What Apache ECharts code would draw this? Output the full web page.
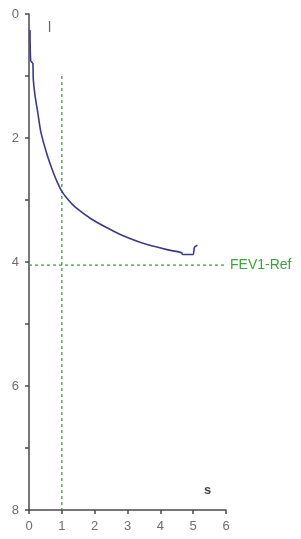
<!DOCTYPE html>
<html><head><meta charset="utf-8">
<script src="https://cdn.jsdelivr.net/npm/echarts@6/dist/echarts.min.js"></script>
<style>html,body{margin:0;padding:0;background:#fff}#c{width:301px;height:539px}</style>
</head><body><div id="c"></div>
<script>
// Volume-time curve (time in s, volume in l)
var curveTime   = [0.03, 0.05, 0.09, 0.12, 0.13, 0.18, 0.27, 0.36, 0.54, 0.70, 0.85, 1.00, 1.20, 1.40, 1.91, 2.42, 2.83, 3.38, 4.20, 4.65, 4.68, 4.99, 5.04, 5.13];
var curveVolume = [0.26, 0.75, 0.78, 0.80, 1.05, 1.30, 1.60, 1.90, 2.25, 2.50, 2.70, 2.86, 3.00, 3.11, 3.31, 3.46, 3.57, 3.68, 3.80, 3.85, 3.88, 3.88, 3.76, 3.73];
var fev1Ref = 4.05;
var fev1Time = 1;
var fevLineStart = 1;
var xTicks = [0, 1, 2, 3, 4, 5, 6];
var yTicks = [0, 2, 4, 6, 8];
var xUnit = 's', yUnit = 'l', refLabel = 'FEV1-Ref';

var curve = curveTime.map(function(t, i){ return [t, curveVolume[i]]; });
var refH = [[xTicks[0], fev1Ref], [xTicks[xTicks.length-1], fev1Ref]];
var refV = [[fev1Time, fevLineStart], [fev1Time, yTicks[yTicks.length-1]]];

var green = '#3aa43a';
var axisColor = '#4a4a4a';
var labelColor = '#6e6e6e';
var chart = echarts.init(document.getElementById('c'));
chart.setOption({
  animation: false,
  grid: {left: 29, right: 75, top: 14, bottom: 29},
  xAxis: {
    type: 'value', min: 0, max: 6, interval: 1,
    axisLine: {onZero: false, lineStyle: {color: axisColor, width: 1.5}},
    axisTick: {length: 4, lineStyle: {color: axisColor, width: 1.5}},
    axisLabel: {color: labelColor, fontSize: 13, fontFamily: 'Liberation Sans', margin: 10},
    splitLine: {show: false}
  },
  yAxis: {
    type: 'value', inverse: true, min: 0, max: 8, interval: 1,
    axisLine: {show: true, onZero: false, lineStyle: {color: axisColor, width: 1.5}},
    axisTick: {show: true, length: 4, lineStyle: {color: axisColor, width: 1.5}},
    axisLabel: {color: labelColor, fontSize: 13, fontFamily: 'Liberation Sans', margin: 10,
      formatter: function(v){ return yTicks.indexOf(v) >= 0 ? String(v) : ''; }},
    splitLine: {show: false}
  },
  series: [
    {type: 'line', data: refH, symbol: 'none', silent: true,
     lineStyle: {color: green, width: 1.3, type: [3, 3]},
     endLabel: {show: true, formatter: refLabel, color: green, fontSize: 14, fontFamily: 'Liberation Sans', distance: 4}},
    {type: 'line', data: refV, symbol: 'none', silent: true,
     lineStyle: {color: green, width: 1.3, type: [3, 3]}},
    {type: 'line', data: curve, symbol: 'none', smooth: 0.25,
     lineStyle: {color: '#3b3b8a', width: 1.6}}
  ],
  graphic: [
    {type: 'text', left: 48, top: 21, style: {text: yUnit, fill: '#666', fontSize: 14, fontFamily: 'Liberation Sans'}},
    {type: 'text', left: 204, top: 484, style: {text: xUnit, fill: '#444', fontSize: 13, fontWeight: 'bold', fontFamily: 'Liberation Sans'}}
  ]
});
</script></body></html>
